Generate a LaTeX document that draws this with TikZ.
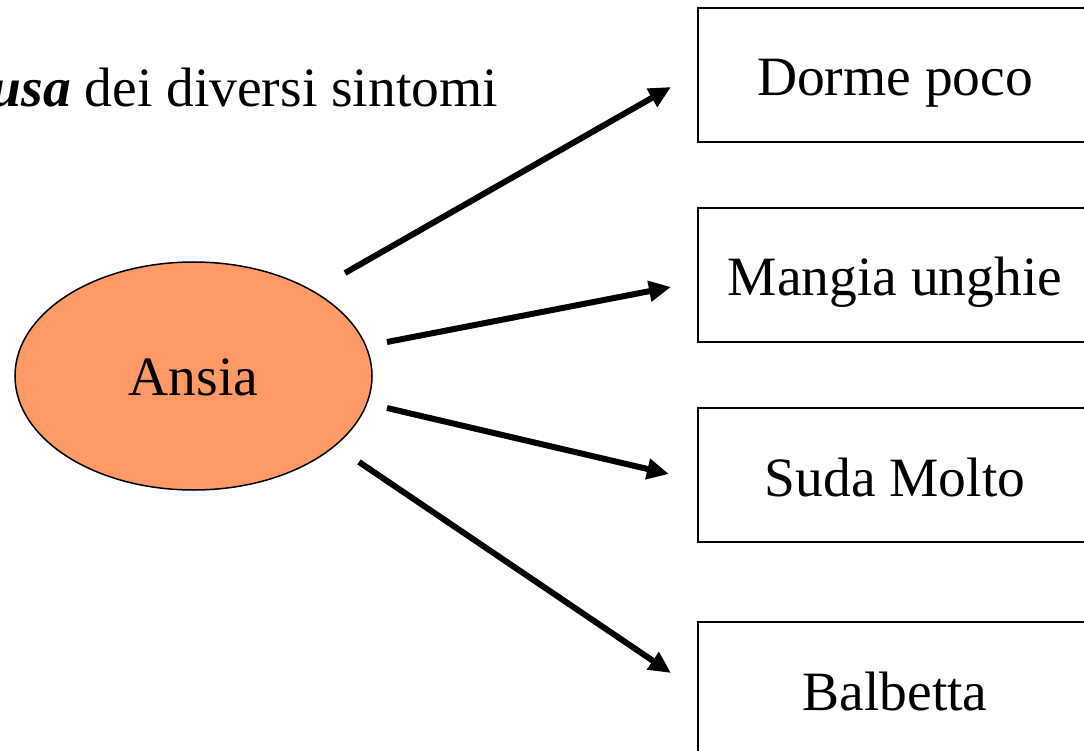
\documentclass[tikz,border=0pt]{standalone}
\usepackage{fontspec}
\setmainfont{Liberation Serif}
\usetikzlibrary{shapes.geometric,arrows.meta}
\definecolor{ansiaorange}{RGB}{255,153,102}
\tikzset{
  big/.style={font=\fontsize{55.5}{66}\selectfont},
  symptom/.style={draw=black, line width=2pt, rectangle, minimum width=394pt, minimum height=134pt, inner sep=0pt, text height=44pt, text depth=2pt, big},
  causenode/.style={draw=black, line width=1.5pt, ellipse, fill=ansiaorange, minimum width=357pt, minimum height=228pt, inner sep=0pt, text height=42pt, text depth=4pt, big},
  link/.style={line width=6pt, -{Triangle[length=22pt,width=20pt]}}
}
\begin{document}
\begin{tikzpicture}[x=1pt,y=-1pt]
\useasboundingbox (0,0) rectangle (1084,751);
\clip (0,0) rectangle (1084,751);
\fill[white] (0,0) rectangle (1084,751);
\node[big, anchor=base east, inner sep=0pt] (title) at (498,107) {\textbf{\textit{causa}} dei diversi sintomi};
\node[causenode] (ansia) at (193.5,376) {Ansia};
\node[symptom] (b1) at (895,75) {Dorme poco};
\node[symptom] (b2) at (895,275) {Mangia unghie};
\node[symptom] (b3) at (895,475) {Suda Molto};
\node[symptom] (b4) at (895,689) {Balbetta};
\coordinate (s1) at (345,273);
\coordinate (e1) at (671,87);
\coordinate (s2) at (387,342);
\coordinate (e2) at (671,287);
\coordinate (s3) at (387,408);
\coordinate (e3) at (669,474);
\coordinate (s4) at (359,462);
\coordinate (e4) at (671,673);
\draw[link] (s1) -- (e1);
\draw[link] (s2) -- (e2);
\draw[link] (s3) -- (e3);
\draw[link] (s4) -- (e4);
\end{tikzpicture}
\end{document}
